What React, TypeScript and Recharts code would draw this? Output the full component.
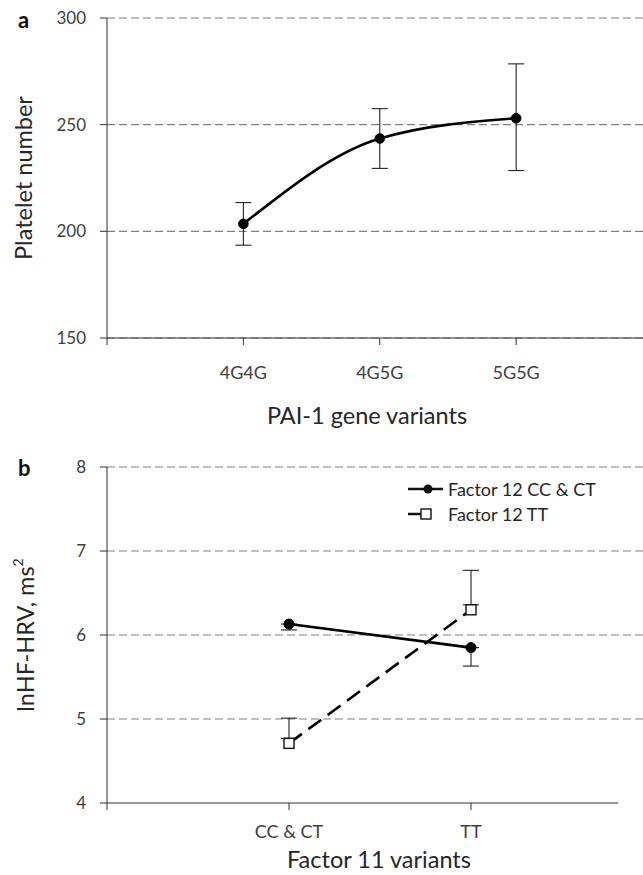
import { LineChart, Line, XAxis, YAxis, CartesianGrid, ErrorBar, Legend, ReferenceLine, Label } from "recharts"

const FONT = "Lato, 'Liberation Sans', sans-serif"
const TICK_COLOR = "#404040"
const TITLE_COLOR = "#262626"

// panel a: platelet number by PAI-1 genotype
const genotypes = ["4G4G", "4G5G", "5G5G"]
const plateletMean = [203.5, 243.5, 253]
const plateletErrLow = [10, 14, 24.5]
const plateletErrHigh = [10, 14, 25.5]
const plateletTicks = [150, 200, 250, 300]

// panel b: lnHF-HRV by factor 11 / factor 12 variants
const factor11 = ["CC & CT", "TT"]
const ccctMean = [6.13, 5.85]
const ccctErrLow = [0.07, 0.22]
const ttMean = [4.71, 6.3]
const ttErrHigh = [0.3, 0.47]
const hrvTicks = [4, 5, 6, 7, 8]
const seriesNames = ["Factor 12 CC & CT", "Factor 12 TT"]

// the upward whisker starts at the top edge of the open square (half a marker, in y units)
const SQUARE_HALF = 0.06

const dataA = genotypes.map((g, i) => ({
  x: i + 1,
  name: g,
  value: plateletMean[i],
  err: [plateletErrLow[i], plateletErrHigh[i]],
}))

const dataB1 = factor11.map((c, i) => ({ x: i + 1, name: c, value: ccctMean[i], err: [ccctErrLow[i], 0] }))
const dataB2 = factor11.map((c, i) => ({ x: i + 1, name: c, value: ttMean[i], err: [-SQUARE_HALF, ttErrHigh[i]] }))

const SquareDot = (props: any) => {
  const { cx, cy } = props
  if (cx == null || cy == null) return null
  return <rect x={cx - 5} y={cy - 5} width={10} height={10} fill="#fff" stroke="#111" strokeWidth={1.4} />
}

const YTitle = ({ viewBox, children, cx }: any) => {
  const cy = viewBox.y + viewBox.height / 2
  return (
    <text
      x={cx}
      y={cy}
      transform={`rotate(-90, ${cx}, ${cy})`}
      textAnchor="middle"
      dominantBaseline="central"
      fontFamily={FONT}
      fontSize={23.5}
      fill={TITLE_COLOR}
    >
      {children}
    </text>
  )
}

const XTitle = ({ viewBox, text, cx, y }: any) => (
  <text x={cx} y={viewBox.y + y} textAnchor="middle" dominantBaseline="central" fontFamily={FONT} fontSize={23.5} fill={TITLE_COLOR}>
    {text}
  </text>
)

const renderLegend = (props: any) => {
  const items = (props.payload || []).filter((it: any) => seriesNames.includes(it.value))
  return (
    <div style={{ fontFamily: FONT, fontSize: 18, color: TITLE_COLOR }}>
      {items.map((item: any, i: number) => (
        <div key={item.value} style={{ display: "flex", alignItems: "center", height: 25 }}>
          <svg width={40} height={16}>
            {i === 0 ? (
              <>
                <line x1={0} y1={8} x2={35} y2={8} stroke="#111" strokeWidth={2.5} />
                <circle cx={20} cy={8} r={4.5} fill="#111" />
              </>
            ) : (
              <>
                <line x1={0} y1={8} x2={13} y2={8} stroke="#111" strokeWidth={2.5} />
                <rect x={13} y={3} width={10} height={10} fill="#fff" stroke="#111" strokeWidth={1.4} />
              </>
            )}
          </svg>
          <span>{item.value}</span>
        </div>
      ))}
    </div>
  )
}

export default function App() {
  return (
    <div style={{ position: "absolute", left: 0, top: 0, width: 643, height: 875, background: "#fff" }}>
      <div style={{ position: "absolute", left: 18, top: 6, fontFamily: FONT, fontWeight: 700, fontSize: 22, color: "#111" }}>a</div>
      <div style={{ position: "absolute", left: 18, top: 454, fontFamily: FONT, fontWeight: 700, fontSize: 22, color: "#111" }}>b</div>

      <div style={{ position: "absolute", left: 0, top: 0 }}>
        <LineChart width={643} height={430} data={dataA} margin={{ top: 18, right: 0, bottom: 0, left: 0 }}>
          <CartesianGrid vertical={false} stroke="#808080" strokeDasharray="8 4" strokeWidth={1.2} />
          <XAxis
            type="number"
            dataKey="x"
            domain={[0, 3.93]}
            ticks={[0, 1, 2, 3]}
            tickFormatter={(v: number) => genotypes[v - 1] ?? ""}
            height={92}
            tickSize={7}
            tickMargin={21}
            stroke="#333"
            tick={{ fill: TICK_COLOR, fontSize: 18, fontFamily: FONT }}
          >
            <Label content={(p: any) => <XTitle {...p} text="PAI-1 gene variants" cx={367} y={77} />} />
          </XAxis>
          <YAxis
            domain={[150, 300]}
            ticks={plateletTicks}
            width={107}
            tickSize={7}
            tickMargin={14}
            stroke="#333"
            tick={{ fill: TICK_COLOR, fontSize: 17, fontFamily: FONT }}
          >
            <Label content={(p: any) => <YTitle {...p} cx={23}>Platelet number</YTitle>} />
          </YAxis>
          <Line
            type="monotone"
            dataKey="value"
            stroke="#000"
            strokeWidth={2.6}
            dot={{ r: 4.8, fill: "#000", stroke: "#000", strokeWidth: 1 }}
            activeDot={false}
            isAnimationActive={false}
          >
            <ErrorBar dataKey="err" direction="y" width={8} stroke="#222" strokeWidth={1.1} />
          </Line>
        </LineChart>
      </div>

      <div style={{ position: "absolute", left: 0, top: 430 }}>
        <LineChart width={643} height={445} margin={{ top: 37, right: 0, bottom: 0, left: 0 }}>
          <CartesianGrid vertical={false} horizontalValues={[5, 6, 7, 8]} stroke="#808080" strokeDasharray="8 4" strokeWidth={1.2} />
          <XAxis
            type="number"
            dataKey="x"
            domain={[0, 2.945]}
            ticks={[0, 1, 2]}
            tickFormatter={(v: number) => factor11[v - 1] ?? ""}
            height={72}
            tickSize={7}
            tickMargin={15}
            axisLine={false}
            stroke="#333"
            tick={{ fill: TICK_COLOR, fontSize: 18, fontFamily: FONT }}
          >
            <Label content={(p: any) => <XTitle {...p} text="Factor 11 variants" cx={379} y={56} />} />
          </XAxis>
          <YAxis
            domain={[4, 8]}
            ticks={hrvTicks}
            width={107}
            tickSize={7}
            tickMargin={14}
            stroke="#333"
            tick={{ fill: TICK_COLOR, fontSize: 17, fontFamily: FONT }}
          >
            <Label
              content={(p: any) => (
                <YTitle {...p} cx={25}>
                  <tspan>lnHF-HRV, ms</tspan>
                  <tspan dy={-8} fontSize={14}>2</tspan>
                </YTitle>
              )}
            />
          </YAxis>
          <ReferenceLine
            segment={[
              { x: 0, y: 4 },
              { x: 2.81, y: 4 },
            ]}
            stroke="#333"
            strokeWidth={1}
            ifOverflow="visible"
          />
          <Legend
            content={renderLegend}
            layout="horizontal"
            align="center"
            verticalAlign="middle"
            wrapperStyle={{ position: "absolute", left: 408, top: 46, width: 230 }}
          />
          <Line
            data={dataB1}
            name={seriesNames[0]}
            type="linear"
            dataKey="value"
            stroke="#000"
            strokeWidth={2.6}
            dot={{ r: 5, fill: "#000", stroke: "#000", strokeWidth: 1 }}
            activeDot={false}
            isAnimationActive={false}
          >
            <ErrorBar dataKey="err" direction="y" width={8} stroke="#222" strokeWidth={1.1} />
          </Line>
          <Line
            data={dataB2}
            name={seriesNames[1]}
            type="linear"
            dataKey="value"
            stroke="#000"
            strokeWidth={2.6}
            strokeDasharray="16 8"
            dot={false}
            activeDot={false}
            isAnimationActive={false}
          >
            <ErrorBar dataKey="err" direction="y" width={8} stroke="#222" strokeWidth={1.1} />
          </Line>
          {/* open square markers on top of the dashed line */}
          <Line
            data={dataB2}
            name="markers"
            legendType="none"
            type="linear"
            dataKey="value"
            stroke="none"
            dot={<SquareDot />}
            activeDot={false}
            isAnimationActive={false}
          />
        </LineChart>
      </div>
    </div>
  )
}
